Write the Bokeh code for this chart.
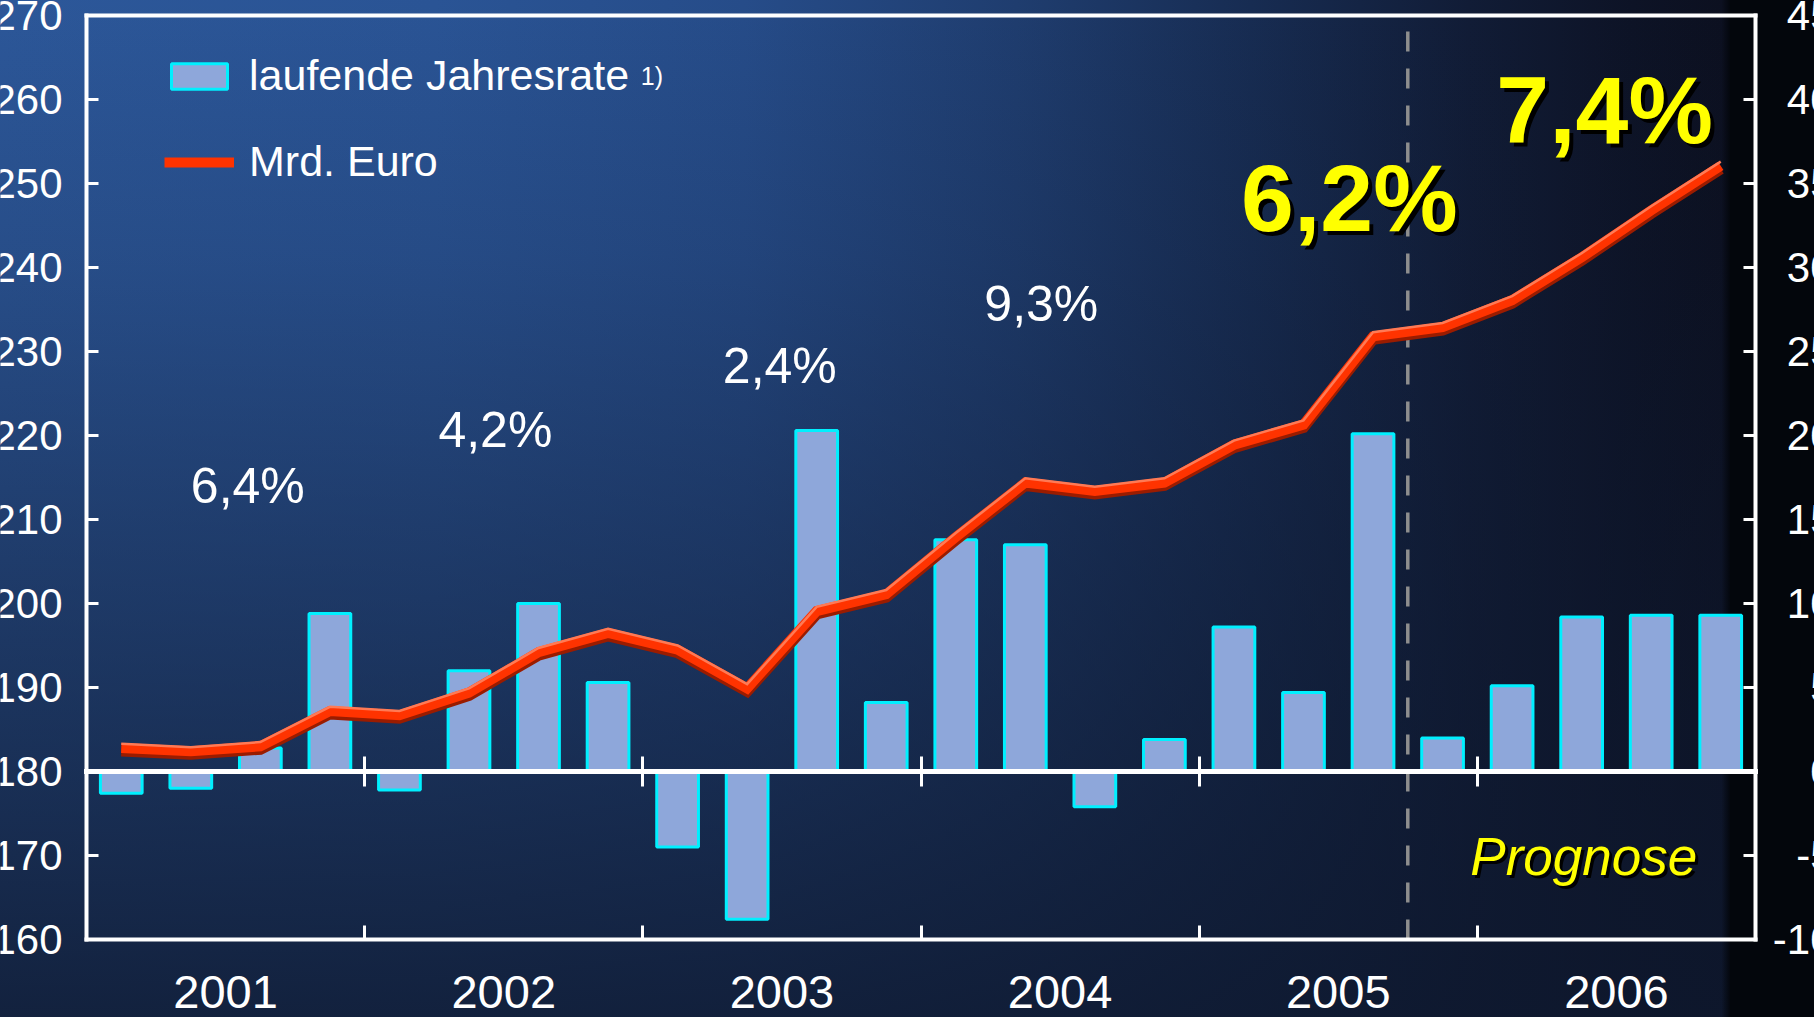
import math
from bokeh.plotting import figure
from bokeh.models import Range1d, LinearAxis, FixedTicker, Label, Legend, LegendItem
from bokeh.embed import file_html
from bokeh.resources import INLINE

# ---------------- data ----------------
years = [2001, 2002, 2003, 2004, 2005, 2006]
quarters = [f"{y} Q{q}" for y in years for q in (1, 2, 3, 4)]

# laufende Jahresrate (right axis, %)
jahresrate = [-1.3, -1.0, 1.4, 9.4,
              -1.1, 6.0, 10.0, 5.3,
              -4.5, -8.8, 20.3, 4.1,
              13.8, 13.5, -2.1, 1.9,
              8.6, 4.7, 20.1, 2.0,
              5.1, 9.2, 9.3, 9.3]

# Mrd. Euro (left axis)
mrd_euro = [182.8, 182.4, 183.0, 187.2,
            186.7, 189.4, 194.2, 196.5,
            194.5, 189.9, 199.1, 201.1,
            207.9, 214.4, 213.4, 214.4,
            218.9, 221.3, 231.8, 232.9,
            236.1, 241.2, 246.8, 252.1]

left_ticks = [160, 170, 180, 190, 200, 210, 220, 230, 240, 250, 260, 270]
right_ticks = [-10, -5, 0, 5, 10, 15, 20, 25, 30, 35, 40, 45]

year_rates = ["6,4%", "4,2%", "2,4%", "9,3%"]
forecast_rates = ["6,2%", "7,4%"]
forecast_start = "2005 Q4"
forecast_label = "Prognose"

# ---------------- layout / style ----------------
FONT = "Liberation Sans"
W, H = 1814, 1017
BOX_L, BOX_R, BOX_T, BOX_B = 86, 1755, 15, 939   # chart box in page pixels

n = len(quarters)
xs = [i + 0.5 for i in range(n)]
year_bounds = [4 * k for k in range(1, len(years))]
year_centers = [4 * k + 2 for k in range(len(years))]
fc_idx = quarters.index(forecast_start)

y0, y1 = left_ticks[0], left_ticks[-1]
r0, r1 = right_ticks[0], right_ticks[-1]
pxx = (BOX_R - BOX_L) / n
pxy = (BOX_B - BOX_T) / (y1 - y0)
pxr = (BOX_B - BOX_T) / (r1 - r0)
x_range = Range1d(0 - BOX_L / pxx, n + (W - BOX_R) / pxx)
y_range = Range1d(y0 - (H - BOX_B) / pxy, y1 + BOX_T / pxy)
pct_range = Range1d(r0 - (H - BOX_B) / pxr, r1 + BOX_T / pxr)

# label positions (data coordinates)
rate_pos_x = [2.32, 5.88, 9.97, 13.73]
rate_pos_y = [214.0, 220.6, 228.3, 235.6]
fc_pos_x = [18.16, 21.83]
fc_pos_y = [248.3, 258.7]

p = figure(width=W, height=H, title=None, x_range=x_range, y_range=y_range,
           output_backend="svg", toolbar_location=None, min_border=0)
p.extra_y_ranges = {"pct": pct_range}
p.styles = {"background": (
    "linear-gradient(to right, rgba(3,6,12,0) 94.9%, rgba(3,6,12,1) 95.4%), "
    "linear-gradient(to bottom, rgba(14,24,46,0) 0%, rgba(14,24,46,0.15) 25%, rgba(14,24,46,0.85) 100%), "
    "linear-gradient(to right, #2c5799 0%, #2a5495 24%, #264c89 41%, #1f3d6f 56%, #172c52 69%, "
    "#111c36 81%, #0d1326 90%, #0c1020 95%)")}
p.background_fill_alpha = 0
p.border_fill_alpha = 0
p.outline_line_color = None
p.grid.visible = False

# forecast divider
p.segment(x0=[fc_idx], y0=[y0], x1=[fc_idx], y1=[y1], line_color="#8e8e8e",
          line_width=3.5, line_dash="20 17")

# bars
bars = p.vbar(x=xs, top=jahresrate, bottom=0, width=0.6, y_range_name="pct",
              fill_color="#8ea7da", line_color="#00f0ff", line_width=3)

# red line with 3D effect
shadow_y = [v - 0.35 for v in mrd_euro]
high_y = [v + 0.5 for v in mrd_euro]
p.line(xs, shadow_y, line_color="#9a1c00", line_width=11, line_join="miter")
main_line = p.line(xs, mrd_euro, line_color="#ff3300", line_width=10, line_join="miter")
p.line(xs, high_y, line_color="#ff7a55", line_width=2.5, line_join="miter")

# ---------------- axes (box) ----------------
def style_axis(ax, width=4):
    ax.axis_line_color = "white"
    ax.axis_line_width = width
    ax.axis_line_cap = "square"
    ax.major_tick_line_color = "white"
    ax.major_tick_line_width = 3
    ax.minor_tick_line_color = None
    ax.major_tick_out = 0

ya = p.yaxis[0]
ya.fixed_location = 0
ya.bounds = (y0, y1)
ya.ticker = FixedTicker(ticks=left_ticks)
style_axis(ya)
ya.major_tick_in = 12
ya.major_label_text_color = "white"
ya.major_label_text_font = FONT
ya.major_label_text_font_size = "42px"
ya.major_label_standoff = 24

ry = LinearAxis(y_range_name="pct", fixed_location=n, bounds=(r0, r1),
                ticker=FixedTicker(ticks=right_ticks),
                major_label_overrides={t: "" for t in right_ticks})
style_axis(ry)
ry.major_tick_in = 12
p.add_layout(ry, "right")

xa = p.xaxis[0]
xa.fixed_location = y0
xa.bounds = (0, n)
xa.ticker = FixedTicker(ticks=year_bounds)
xa.major_label_overrides = {b: "" for b in year_bounds}
style_axis(xa)
xa.major_tick_in = 14

top = LinearAxis(fixed_location=y1, bounds=(0, n), ticker=FixedTicker(ticks=[]))
style_axis(top)
p.add_layout(top, "above")

zero = LinearAxis(y_range_name="pct", fixed_location=0, bounds=(0, n),
                  ticker=FixedTicker(ticks=year_bounds),
                  major_label_overrides={b: "" for b in year_bounds})
style_axis(zero, width=5)
zero.major_tick_in = 15
zero.major_tick_out = 15
p.add_layout(zero, "below")

xy = LinearAxis(fixed_location=y0, ticker=FixedTicker(ticks=year_centers),
                major_label_overrides={c: str(y) for c, y in zip(year_centers, years)},
                major_tick_in=0, major_tick_out=0, minor_tick_line_color=None,
                axis_line_color=None, major_label_standoff=36,
                major_label_text_color="white", major_label_text_font=FONT,
                major_label_text_font_size="47px")
p.add_layout(xy, "below")

# right tick labels (right-aligned, partly beyond the picture edge)
for t in right_ticks:
    p.add_layout(Label(x=n, y=t, y_range_name="pct", x_offset=78, text=str(t),
                       text_align="right", text_baseline="middle",
                       text_color="white", text_font=FONT, text_font_size="42px"))

# ---------------- legend ----------------
legend = Legend(items=[LegendItem(label="laufende Jahresrate", renderers=[bars]),
                       LegendItem(label="Mrd. Euro", renderers=[main_line])],
                location=(164, 831), label_text_font_size="43px", label_text_color="white",
                label_text_font=FONT, glyph_width=70, glyph_height=32, label_standoff=15,
                spacing=37, padding=0, margin=0, background_fill_alpha=0,
                border_line_alpha=0)
p.add_layout(legend)
p.add_layout(Label(x=7.97, y=262.8, text="1)", text_align="left", text_baseline="middle",
                   text_color="white", text_font=FONT, text_font_size="25px"))

# ---------------- annotations ----------------
for t, x, y in zip(year_rates, rate_pos_x, rate_pos_y):
    p.add_layout(Label(x=x, y=y, text=t, text_align="center", text_baseline="middle",
                       text_color="white", text_font=FONT, text_font_size="50px"))

for t, x, y in zip(forecast_rates, fc_pos_x, fc_pos_y):
    p.add_layout(Label(x=x, y=y, x_offset=4, y_offset=-4, text=t, text_align="center",
                       text_baseline="middle", text_color="black", text_font=FONT,
                       text_font_size="95px", text_font_style="bold"))
    p.add_layout(Label(x=x, y=y, text=t, text_align="center", text_baseline="middle",
                       text_color="#ffff00", text_font=FONT, text_font_size="95px",
                       text_font_style="bold"))

p.add_layout(Label(x=21.53, y=169.9, x_offset=3, y_offset=-3, text=forecast_label,
                   text_align="center", text_baseline="middle", text_color="black",
                   text_font=FONT, text_font_size="53px", text_font_style="italic"))
p.add_layout(Label(x=21.53, y=169.9, text=forecast_label, text_align="center",
                   text_baseline="middle", text_color="#ffff00", text_font=FONT,
                   text_font_size="53px", text_font_style="italic"))

open("out.html", "w").write(file_html(p, INLINE))
